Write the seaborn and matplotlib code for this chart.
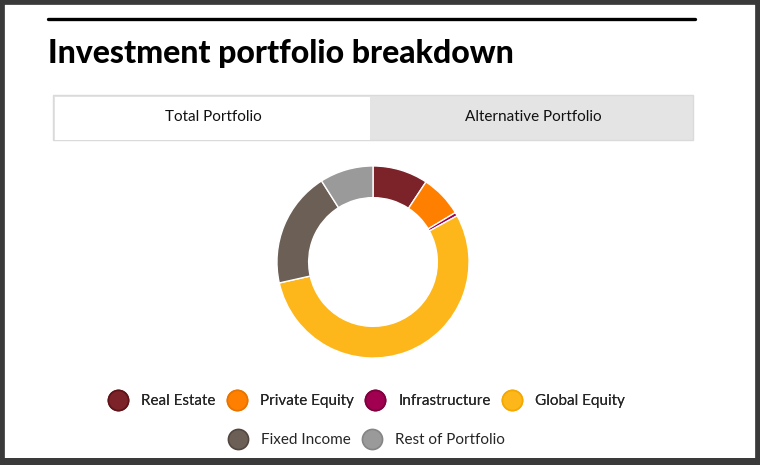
import matplotlib
matplotlib.use("Agg")
import matplotlib.pyplot as plt
import seaborn as sns
from matplotlib.patches import Rectangle
from matplotlib.lines import Line2D

# data (percent of total portfolio)
categories = ["Real Estate", "Private Equity", "Infrastructure",
              "Global Equity", "Fixed Income", "Rest of Portfolio"]
shares = [9.3, 7.1, 0.6, 54.5, 19.5, 9.0]
colors = ["#7C2329", "#FF8000", "#A0004F", "#FDB71B", "#6C5F56", "#9A9A9A"]
edge_colors = ["#5E1419", "#E87400", "#7E003C", "#F5A800", "#524740", "#858585"]
tab_labels = ["Total Portfolio", "Alternative Portfolio"]

sns.set_theme(style="white")
plt.rcParams["font.family"] = ["Lato", "DejaVu Sans"]

W, H = 760, 465
fig = plt.figure(figsize=(W / 100, H / 100), dpi=100)
fig.patch.set_facecolor("white")


def fx(x):
    return x / W


def fy(y):
    return 1 - y / H


# screenshot frame
fig.patches.append(Rectangle((0, 0), 1, 1, transform=fig.transFigure,
                             facecolor="none", edgecolor="#3A3A3A", linewidth=7, zorder=10))
fig.patches.append(Rectangle((0, 0), 1, fy(458), transform=fig.transFigure,
                             facecolor="#3A3A3A", edgecolor="none", zorder=10))

# header rule and title
fig.add_artist(Line2D([fx(48), fx(695)], [fy(19), fy(19)], color="black", linewidth=2.4))
fig.text(fx(48), fy(53), "Investment portfolio breakdown", fontsize=23, fontweight="black",
         va="center", ha="left", color="black")

# tabs
fig.patches.append(Rectangle((fx(53), fy(140)), fx(640), 45 / H, transform=fig.transFigure,
                             facecolor="#E4E4E4", edgecolor="#DADADA", linewidth=1))
fig.patches.append(Rectangle((fx(55), fy(140)), fx(315), 43 / H, transform=fig.transFigure,
                             facecolor="white", edgecolor="none"))
fig.text(fx(213), fy(117), tab_labels[0], fontsize=11, ha="center", va="center", color="#111111")
fig.text(fx(533), fy(117), tab_labels[1], fontsize=11, ha="center", va="center", color="#111111")

# donut
cx, cy, r = 373, 262, 97
ax = fig.add_axes([fx(cx - r), fy(cy + r), 2 * r / W, 2 * r / H])
ax.pie(shares, colors=colors, startangle=90, counterclock=False,
       wedgeprops=dict(width=0.33, edgecolor="white", linewidth=1.0))
ax.set_xlim(-1.01, 1.01)
ax.set_ylim(-1.01, 1.01)
ax.set_aspect("equal")
ax.axis("off")

# legend: two centred rows
handles = [Line2D([0], [0], marker="o", linestyle="none", markersize=14.5,
                  markerfacecolor=c, markeredgecolor=ec, markeredgewidth=1.2)
           for c, ec in zip(colors, edge_colors)]
leg_kw = dict(frameon=False, fontsize=11, handletextpad=0.9, columnspacing=0.8,
              handlelength=1.2, loc="center")
leg1 = fig.legend(handles[:4], categories[:4], ncol=4,
                  bbox_to_anchor=(fx(367), fy(401)), **leg_kw)
leg2 = fig.legend(handles[4:], categories[4:], ncol=2,
                  bbox_to_anchor=(fx(367), fy(440)), **leg_kw)
fig.add_artist(leg1)

fig.savefig("out.png", dpi=100)
